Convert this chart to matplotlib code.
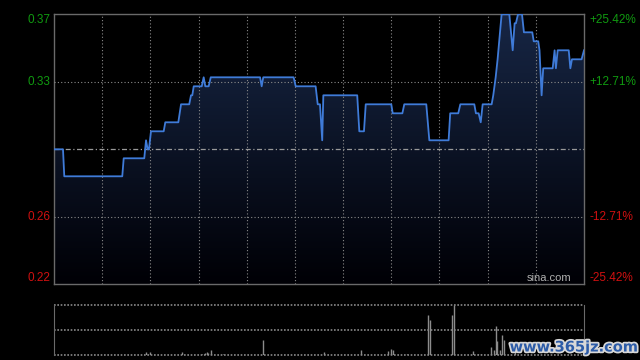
import numpy as np
import matplotlib
matplotlib.use('Agg')
import matplotlib.pyplot as plt
import matplotlib.patheffects as pe
from matplotlib.patches import Polygon

plt.rcParams['font.family'] = ['Liberation Sans', 'DejaVu Sans']

# intraday price, minutes since open (HK session, 330 min) and price
times = [0, 5.6, 6.4, 42.5, 43.4, 56.2, 57.3, 58.3, 59.1, 60.4, 68.3, 69.3, 77.4, 79.1,
         84.2, 85.3, 86.1, 87, 92, 93.2, 94.2, 96.3, 97.6, 128.3, 129.3, 130.3, 149.2,
         150.5, 162.9, 164.2, 165.6, 167, 167.7, 188.8, 190.1, 193, 194.1, 210, 210.9,
         216.9, 218.1, 231.8, 233.7, 245.7, 246.7, 251.7, 253, 261.7, 262.7, 264.4, 265.7,
         266.9, 272.5, 273.5, 275, 276.2, 278.7, 283.5, 285.6, 286.8, 287.6, 288.9, 291.4,
         292.6, 297.8, 298.7, 301.5, 302.3, 303.6, 304.6, 310.5, 311.7, 312.5, 313.6, 320.5,
         321.5, 322.5, 328.5, 330]
prices = [0.295, 0.295, 0.28, 0.28, 0.29, 0.29, 0.30, 0.295, 0.295, 0.305, 0.305, 0.31, 0.31, 0.32,
          0.32, 0.325, 0.325, 0.33, 0.33, 0.335, 0.33, 0.33, 0.335, 0.335, 0.33, 0.335, 0.335,
          0.33, 0.33, 0.32, 0.32, 0.30, 0.325, 0.325, 0.305, 0.305, 0.32, 0.32, 0.315,
          0.315, 0.32, 0.32, 0.30, 0.30, 0.315, 0.315, 0.32, 0.32, 0.315, 0.315, 0.31,
          0.32, 0.32, 0.325, 0.335, 0.345, 0.37, 0.37, 0.35, 0.365, 0.365, 0.37, 0.37,
          0.36, 0.36, 0.355, 0.355, 0.35, 0.325, 0.34, 0.34, 0.35, 0.34, 0.35, 0.35,
          0.34, 0.345, 0.345, 0.35]

vol_t = [57, 60, 80, 92, 94, 95, 96, 98, 105, 130, 168, 191, 208, 210, 211, 220, 233, 234,
         248, 249, 261, 264, 266, 272, 274, 275, 276, 278, 279, 280, 287]
vol = [2.7, 3.3, 3, 1.5, 2, 3.3, 2, 4.7, 1, 15.3, 3.3, 5, 4.3, 6.3, 5.3, 1.5, 40.3, 35,
       40.3, 50, 4.3, 1.5, 1.5, 8, 4.7, 29, 14, 5.3, 20, 15.3, 8.7]

prev_close = 0.295
y_lo, y_hi = 0.22, 0.37
left_labels = ['0.37', '0.33', '0.26', '0.22']
right_labels = ['+25.42%', '+12.71%', '-12.71%', '-25.42%']

green = '#109a10'
red = '#d01010'
frame = '#6a6a6a'
grid_c = '#8a8a8a'

fig = plt.figure(figsize=(6.4, 3.6), dpi=100, facecolor='black')
ax = fig.add_axes([54/640, 1-284.3/360, 530/640, 270/360])
ax.set_facecolor('black')
ax.set_xlim(0, 330)
ax.set_ylim(y_lo, y_hi)
for s in ax.spines.values():
	s.set_color(frame)
	s.set_linewidth(1)
ax.set_xticks([])
ax.set_yticks([])

# grid
for t in range(30, 330, 30):
	ax.axvline(t, color=grid_c, lw=0.8, ls=(0, (1, 2)), zorder=3)
half = (y_hi - y_lo) / 4
for yv in [prev_close + half, prev_close - half]:
	ax.axhline(yv, color=grid_c, lw=0.8, ls=(0, (1, 2)), zorder=3)
ax.axhline(prev_close, color='#9a9a9a', lw=0.9, ls=(0, (4, 2, 1, 2)), zorder=3)

# gradient fill under line
grad = np.linspace(1, 0, 256).reshape(-1, 1)
top_c = np.array([0.09, 0.15, 0.27])
bot_c = np.array([0.0, 0.0, 0.02])
img = bot_c + (top_c - bot_c) * grad[..., None]
im = ax.imshow(img, extent=[0, 330, y_lo, y_hi], aspect='auto', zorder=1, origin='upper')
verts = [(0, y_lo)] + list(zip(times, prices)) + [(330, y_lo)]
poly = Polygon(verts, closed=True, facecolor='none', edgecolor='none')
ax.add_patch(poly)
im.set_clip_path(poly)

ax.plot(times, prices, color='#3f7bd8', lw=1.3, zorder=4)

# axis labels
ys = [y_hi, prev_close + half, prev_close - half, y_lo]
offs = [-0.0033, 0, 0, 0.0033]
cols = [green, green, red, red]
for yv, o, l, r, c in zip(ys, offs, left_labels, right_labels, cols):
	ax.text(-3.5 / 530 * 330, yv + o, l, color=c, fontsize=8.5, ha='right', va='center')
	ax.text(333.5, yv + o, r, color=c, fontsize=8.5, ha='left', va='center')

ax.text(322, y_lo + 0.0033, 'sina.com', color='#b0b0b0', fontsize=8, ha='right', va='center')

# volume panel
vax = fig.add_axes([54/640, 1-355/360, 530/640, 50/360])
vax.set_facecolor('black')
vax.set_xlim(0, 330)
vax.set_ylim(0, 50)
vax.set_xticks([])
vax.set_yticks([])
for k in ['top', 'bottom']:
	vax.spines[k].set_visible(False)
for k in ['left', 'right']:
	vax.spines[k].set_color(frame)
for yv in [0, 25, 50]:
	vax.axhline(yv, color=grid_c, lw=1.2, ls=(0, (1, 1)), clip_on=False)
vax.vlines(vol_t, 0, vol, color='#8c8c8c', lw=1)

fig.text(574/640, 1-347/360, 'www.365jz.com', color='#2d5ca8', fontsize=10.5,
	fontweight='bold', family='DejaVu Sans', ha='center', va='center',
	path_effects=[pe.withStroke(linewidth=2.5, foreground='#d8d8d8')])

fig.savefig('out.png', dpi=100, facecolor='black')
